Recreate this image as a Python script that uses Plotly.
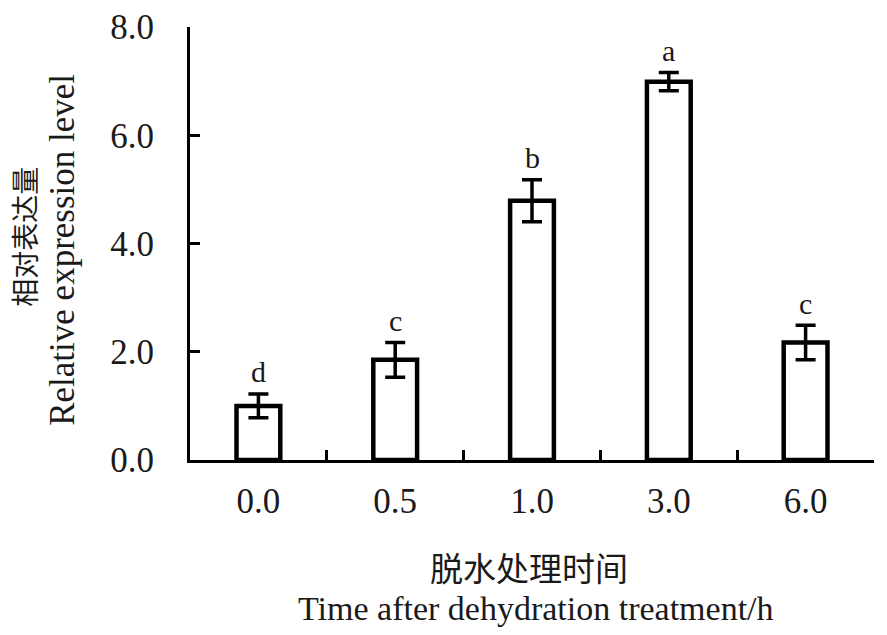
"""
相对表达量柱状图（脱水处理时间）- 误差条 + 显著性字母
"""
import plotly.graph_objects as go

# 数据
categories = ["0.0", "0.5", "1.0", "3.0", "6.0"]
values = [1.00, 1.85, 4.79, 6.99, 2.17]
errors = [0.22, 0.32, 0.39, 0.17, 0.32]
letters = ["d", "c", "b", "a", "c"]
y_ticks = [0, 2, 4, 6, 8]

SERIF = "Times New Roman, Liberation Serif, Noto Sans CJK SC, serif"
TXT = "#1a1a1a"

fig = go.Figure()

fig.add_trace(go.Bar(
    x=categories,
    y=values,
    width=0.32,
    marker=dict(color="white", line=dict(color="black", width=4.5)),
    error_y=dict(
        type="data",
        array=errors,
        visible=True,
        color="black",
        thickness=3.5,
        width=10,
    ),
    showlegend=False,
))

# 显著性字母（类别轴上用索引定位）
for i, (v, e, t) in enumerate(zip(values, errors, letters)):
    fig.add_annotation(
        x=i, y=v + e, text=t, showarrow=False,
        yanchor="middle", yshift=22,
        font=dict(family=SERIF, size=30, color=TXT),
    )

# 坐标轴标题（两行，中英文分开放置）
fig.add_annotation(
    x=-0.240, y=0.515, xref="paper", yref="paper", text="相对表达量",
    textangle=-90, showarrow=False, xanchor="center", yanchor="middle",
    font=dict(family=SERIF, size=28, color=TXT),
)
fig.add_annotation(
    x=-0.186, y=0.485, xref="paper", yref="paper", text="Relative expression level",
    textangle=-90, showarrow=False, xanchor="center", yanchor="middle",
    font=dict(family=SERIF, size=35, color=TXT),
)
fig.add_annotation(
    x=0.496, y=-0.254, xref="paper", yref="paper", text="脱水处理时间",
    showarrow=False, xanchor="center", yanchor="middle",
    font=dict(family=SERIF, size=33, color=TXT),
)
fig.add_annotation(
    x=0.506, y=-0.342, xref="paper", yref="paper",
    text="Time after dehydration treatment/h",
    showarrow=False, xanchor="center", yanchor="middle",
    font=dict(family=SERIF, size=34, color=TXT),
)

# 页面 body 默认有 8px 边距，这里把边距减掉补偿
fig.update_layout(
    width=887,
    height=635,
    margin=dict(l=182, r=21, t=19, b=183),
    plot_bgcolor="white",
    paper_bgcolor="white",
    font=dict(family=SERIF, size=35, color=TXT),
)

fig.update_xaxes(
    type="category",
    range=[-0.5, 4.5],
    showline=True, linecolor="black", linewidth=3,
    ticks="inside", tickson="boundaries", ticklen=10, tickwidth=3, tickcolor="black",
    showgrid=False, zeroline=False, automargin=False,
    ticklabelstandoff=8,
    tickfont=dict(family=SERIF, size=35, color=TXT),
)
fig.update_yaxes(
    range=[0, 8],
    tickvals=y_ticks,
    tickformat=".1f",
    showline=True, linecolor="black", linewidth=3,
    ticks="inside", ticklen=10, tickwidth=3, tickcolor="black",
    showgrid=False, zeroline=False, automargin=False,
    ticklabelstandoff=26,
    tickfont=dict(family=SERIF, size=35, color=TXT),
)

fig.write_html("out.html")
